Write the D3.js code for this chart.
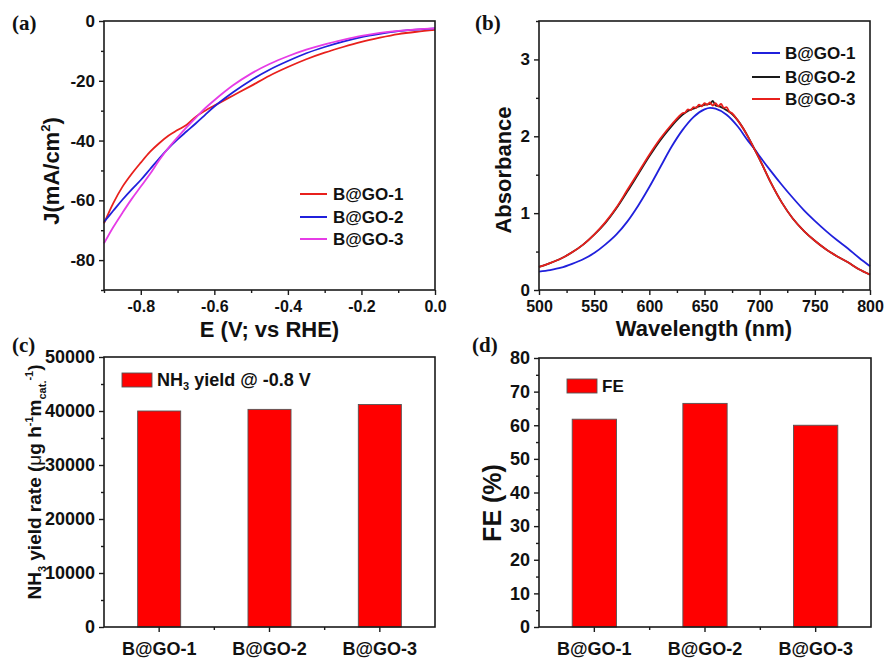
<!DOCTYPE html>
<html><head><meta charset="utf-8">
<script src="https://cdn.jsdelivr.net/npm/d3@7"></script>
<style>
body{margin:0;background:#fff}
text{font-family:"Liberation Sans",Arial,sans-serif;font-weight:bold;fill:#111}
.plab{font-family:"Liberation Serif","Times New Roman",serif;font-weight:bold}
</style>
</head><body>
<svg id="fig" width="888" height="661"></svg>
<script>
// ---------- DATA ----------
// (a) LSV curves
const seriesA = ["B@GO-1", "B@GO-2", "B@GO-3"];
const potentialA = [-0.9, -0.875, -0.85, -0.825, -0.8, -0.775, -0.75, -0.725, -0.7, -0.675, -0.65, -0.625, -0.6, -0.55, -0.5, -0.45, -0.4, -0.35, -0.3, -0.25, -0.2, -0.15, -0.1, -0.05, 0];
const currentGO1 = [-67.7, -61.0, -55.5, -51.2, -47.4, -43.8, -40.9, -38.4, -36.5, -34.7, -32.0, -30.0, -28.3, -25.0, -21.7, -18.3, -15.4, -12.8, -10.6, -8.7, -7.0, -5.6, -4.4, -3.6, -3.0];
const currentGO2 = [-67.2, -63.5, -59.8, -56.4, -53.2, -49.6, -46.0, -42.6, -39.6, -36.9, -34.2, -31.4, -28.6, -23.9, -19.8, -16.3, -13.4, -10.8, -8.7, -6.9, -5.4, -4.3, -3.4, -2.9, -2.5];
const currentGO3 = [-74.4, -69.0, -64.2, -59.6, -55.4, -51.2, -46.6, -42.5, -38.9, -35.5, -32.3, -29.2, -26.5, -21.6, -17.6, -14.4, -11.8, -9.6, -7.8, -6.3, -5.0, -4.0, -3.3, -2.8, -2.5];
const xTicksA = [-0.8, -0.6, -0.4, -0.2, 0.0];
const yTicksA = [0, -20, -40, -60, -80];

// (b) UV-vis absorbance
const seriesB = ["B@GO-1", "B@GO-2", "B@GO-3"];
const wavelengthB1 = [500, 510, 520, 530, 540, 550, 560, 570, 580, 590, 600, 610, 620, 630, 640, 650, 655, 660, 670, 680, 690, 695, 700, 710, 720, 730, 740, 750, 760, 770, 780, 790, 800];
const absorbB1 =     [0.24, 0.26, 0.29, 0.34, 0.40, 0.48, 0.59, 0.72, 0.89, 1.10, 1.34, 1.60, 1.86, 2.08, 2.25, 2.35, 2.37, 2.36, 2.28, 2.13, 1.93, 1.84, 1.74, 1.55, 1.37, 1.20, 1.04, 0.90, 0.77, 0.65, 0.54, 0.42, 0.31];
const wavelengthB2 = [500, 510, 520, 530, 540, 550, 560, 570, 580, 590, 600, 610, 620, 625, 630, 635, 640, 645, 650, 655, 657.5, 660, 665, 670, 675, 680, 690, 695, 700, 710, 720, 730, 740, 750, 760, 770, 780, 790, 800];
const absorbB2 =     [0.30, 0.35, 0.41, 0.49, 0.59, 0.72, 0.87, 1.06, 1.28, 1.51, 1.74, 1.95, 2.13, 2.21, 2.28, 2.33, 2.36, 2.39, 2.41, 2.42, 2.46, 2.40, 2.38, 2.34, 2.29, 2.21, 1.98, 1.84, 1.70, 1.40, 1.14, 0.93, 0.77, 0.64, 0.53, 0.44, 0.36, 0.27, 0.20];
const wavelengthB3 = [500, 510, 520, 530, 540, 550, 560, 570, 580, 590, 600, 610, 620, 625, 627.5, 630, 632.5, 635, 637.5, 640, 642.5, 645, 647.5, 650, 652.5, 655, 657.5, 660, 662.5, 665, 667.5, 670, 672.5, 675, 680, 690, 695, 700, 710, 720, 730, 740, 750, 760, 770, 780, 790, 800];
const absorbB3 =     [0.30, 0.35, 0.41, 0.49, 0.59, 0.72, 0.88, 1.07, 1.30, 1.53, 1.76, 1.97, 2.15, 2.23, 2.27, 2.30, 2.31, 2.35, 2.34, 2.38, 2.37, 2.41, 2.39, 2.43, 2.41, 2.44, 2.40, 2.43, 2.39, 2.42, 2.37, 2.38, 2.32, 2.30, 2.21, 1.98, 1.84, 1.70, 1.40, 1.14, 0.93, 0.77, 0.64, 0.53, 0.44, 0.36, 0.27, 0.20];
const xTicksB = [500, 550, 600, 650, 700, 750, 800];
const yTicksB = [0, 1, 2, 3];

// (c) NH3 yield rate, (d) FE
const categories = ["B@GO-1", "B@GO-2", "B@GO-3"];
const yieldRate = [40000, 40300, 41200];
const faradaicEff = [61.8, 66.5, 60.0];
const yTicksC = [0, 10000, 20000, 30000, 40000, 50000];
const yTicksD = [0, 10, 20, 30, 40, 50, 60, 70, 80];

// ---------- DRAW ----------
const svg = d3.select("#fig");
svg.append("rect").attr("width", 888).attr("height", 661).attr("fill", "#fff");
const RED = "#e8201c", BLUE = "#2020dc", MAG = "#e63ce6", BLK = "#1a1a1a";

function frame(g, x0, x1, y0, y1) {
  g.append("rect").attr("x", x0).attr("y", y0).attr("width", x1 - x0).attr("height", y1 - y0)
    .attr("fill", "none").attr("stroke", "#1a1a1a").attr("stroke-width", 1.6);
}
function styleAxis(sel, fs) {
  sel.select(".domain").remove();
  sel.selectAll("line").attr("stroke", "#1a1a1a").attr("stroke-width", 1.4);
  sel.selectAll("text").attr("font-size", fs).attr("font-family", "Liberation Sans, Arial, sans-serif")
    .attr("font-weight", "bold").attr("fill", "#111");
}
function minorAxis(g, axisFn, scale, vals, transform) {
  const a = g.append("g").attr("transform", transform).call(axisFn(scale).tickValues(vals).tickSize(3).tickFormat(""));
  styleAxis(a, 1);
}
function panelLabel(txt, x, y) {
  svg.append("text").attr("class", "plab").attr("x", x).attr("y", y).attr("font-size", 21).text(txt);
}

// ---- panel (a)
{
  const L = 104, R = 435, T = 21, B = 290;
  const x = d3.scaleLinear().domain([-0.9, 0]).range([L, R]);
  const y = d3.scaleLinear().domain([-90, 0]).range([B, T]);
  const g = svg.append("g");
  const ya = g.append("g").attr("transform", `translate(${L},0)`)
    .call(d3.axisLeft(y).tickValues(yTicksA).tickSize(5).tickPadding(4).tickFormat(d => String(d)));
  styleAxis(ya, 17);
  minorAxis(g, d3.axisLeft, y, [-10, -30, -50, -70, -90], `translate(${L},0)`);
  const xa = g.append("g").attr("transform", `translate(0,${B})`)
    .call(d3.axisBottom(x).tickValues(xTicksA).tickSize(5).tickPadding(6).tickFormat(d => d.toFixed(1)));
  styleAxis(xa, 16);
  minorAxis(g, d3.axisBottom, x, [-0.9, -0.7, -0.5, -0.3, -0.1], `translate(0,${B})`);
  const line = d3.line().x(d => x(d[0])).y(d => y(d[1])).curve(d3.curveCatmullRom.alpha(0.5));
  const cols = [RED, BLUE, MAG];
  [currentGO1, currentGO2, currentGO3].forEach((s, i) => {
    g.append("path").datum(potentialA.map((e, k) => [e, s[k]])).attr("d", line)
      .attr("fill", "none").attr("stroke", cols[i]).attr("stroke-width", 1.8);
  });
  frame(g, L, R, T, B);
  const ly = [194, 217, 239];
  seriesA.forEach((n, i) => {
    g.append("line").attr("x1", 300).attr("x2", 327).attr("y1", ly[i]).attr("y2", ly[i]).attr("stroke", cols[i]).attr("stroke-width", 2);
    g.append("text").attr("x", 333).attr("y", ly[i]).attr("dy", "0.36em").attr("font-size", 17).text(n);
  });
  g.append("text").attr("x", (L + R) / 2).attr("y", 337).attr("text-anchor", "middle").attr("font-size", 22).text("E (V; vs RHE)");
  const yt = g.append("text").attr("transform", "translate(59,171) rotate(-90)").attr("text-anchor", "middle").attr("font-size", 22);
  yt.append("tspan").text("J(mA/cm");
  yt.append("tspan").attr("font-size", 13).attr("dy", -9).text("2");
  yt.append("tspan").attr("dy", 9).text(")");
  panelLabel("(a)", 12, 30);
}

// ---- panel (b)
{
  const L = 539, R = 870, T = 21, B = 290;
  const x = d3.scaleLinear().domain([500, 800]).range([L, R]);
  const y = d3.scaleLinear().domain([0, 3.5]).range([B, T]);
  const g = svg.append("g");
  const ya = g.append("g").attr("transform", `translate(${L},0)`)
    .call(d3.axisLeft(y).tickValues(yTicksB).tickSize(5).tickPadding(4).tickFormat(d => String(d)));
  styleAxis(ya, 17);
  minorAxis(g, d3.axisLeft, y, [0.5, 1.5, 2.5, 3.5], `translate(${L},0)`);
  const xa = g.append("g").attr("transform", `translate(0,${B})`)
    .call(d3.axisBottom(x).tickValues(xTicksB).tickSize(5).tickPadding(6).tickFormat(d => String(d)));
  styleAxis(xa, 16);
  minorAxis(g, d3.axisBottom, x, [525, 575, 625, 675, 725, 775], `translate(0,${B})`);
  const line = d3.line().x(d => x(d[0])).y(d => y(d[1])).curve(d3.curveMonotoneX);
  const cols = [BLUE, BLK, RED];
  const sets = [[wavelengthB1, absorbB1], [wavelengthB2, absorbB2], [wavelengthB3, absorbB3]];
  sets.forEach((s, i) => {
    g.append("path").datum(s[0].map((w, k) => [w, s[1][k]])).attr("d", line)
      .attr("fill", "none").attr("stroke", cols[i]).attr("stroke-width", 1.8);
  });
  frame(g, L, R, T, B);
  const ly = [53, 77, 99];
  seriesB.forEach((n, i) => {
    g.append("line").attr("x1", 752).attr("x2", 780).attr("y1", ly[i]).attr("y2", ly[i]).attr("stroke", cols[i]).attr("stroke-width", 2);
    g.append("text").attr("x", 785).attr("y", ly[i]).attr("dy", "0.36em").attr("font-size", 17).text(n);
  });
  g.append("text").attr("x", 704).attr("y", 336).attr("text-anchor", "middle").attr("font-size", 22).text("Wavelength (nm)");
  g.append("text").attr("transform", "translate(511,170) rotate(-90)").attr("text-anchor", "middle").attr("font-size", 22).text("Absorbance");
  panelLabel("(b)", 475, 30);
}

// ---- bar panels
function barPanel(L, R, T, B, vals, ymax, ticks, minor, fs, barW) {
  const g = svg.append("g");
  const x = d3.scaleBand().domain(categories).range([L, R]).paddingInner(0).paddingOuter(0);
  const y = d3.scaleLinear().domain([0, ymax]).range([B, T]);
  const ya = g.append("g").attr("transform", `translate(${L},0)`)
    .call(d3.axisLeft(y).tickValues(ticks).tickSize(5).tickPadding(4).tickFormat(d => String(d)));
  styleAxis(ya, fs);
  minorAxis(g, d3.axisLeft, y, minor, `translate(${L},0)`);
  const xa = g.append("g").attr("transform", `translate(0,${B})`)
    .call(d3.axisBottom(x).tickSize(5).tickPadding(10));
  styleAxis(xa, 18);
  // minor ticks at band boundaries
  const bounds = [x.range()[0] + x.bandwidth(), x.range()[0] + 2 * x.bandwidth()];
  g.append("g").selectAll("line").data(bounds).join("line")
    .attr("x1", d => d).attr("x2", d => d).attr("y1", B).attr("y2", B + 3)
    .attr("stroke", "#1a1a1a").attr("stroke-width", 1.4);
  const bw = x.bandwidth() * barW;
  g.append("g").selectAll("rect").data(categories).join("rect")
    .attr("x", d => x(d) + (x.bandwidth() - bw) / 2).attr("width", bw)
    .attr("y", (d, i) => y(vals[i])).attr("height", (d, i) => B - y(vals[i]))
    .attr("fill", "#ff0000").attr("stroke", "#555").attr("stroke-width", 0.9);
  frame(g, L, R, T, B);
  return g;
}

// ---- panel (c)
{
  const g = barPanel(104, 435, 357, 627, yieldRate, 50000, yTicksC, [5000, 15000, 25000, 35000, 45000], 18, 0.39);
  g.append("rect").attr("x", 122).attr("y", 373).attr("width", 30).attr("height", 14)
    .attr("fill", "#ff0000").attr("stroke", "#555").attr("stroke-width", 0.9);
  const lt = g.append("text").attr("x", 157).attr("y", 386).attr("font-size", 18);
  lt.append("tspan").text("NH");
  lt.append("tspan").attr("font-size", 11).attr("dy", 4).text("3");
  lt.append("tspan").attr("dy", -4).text(" yield @ -0.8 V");
  const yt = g.append("text").attr("transform", "translate(41,482) rotate(-90)").attr("text-anchor", "middle").attr("font-size", 19);
  yt.append("tspan").text("NH");
  yt.append("tspan").attr("font-size", 11).attr("dy", 5).text("3");
  yt.append("tspan").attr("dy", -5).text(" yield rate (");
  yt.append("tspan").attr("font-weight", "normal").text("\u03bc");
  yt.append("tspan").text("g h");
  yt.append("tspan").attr("font-size", 11).attr("dy", -8).text("-1");
  yt.append("tspan").attr("dy", 8).text("m");
  yt.append("tspan").attr("font-size", 11).attr("dy", 5).text("cat.");
  yt.append("tspan").attr("font-size", 11).attr("dy", -13).text("-1");
  yt.append("tspan").attr("dy", 8).text(")");
  panelLabel("(c)", 12, 352);
}

// ---- panel (d)
{
  const g = barPanel(539, 871, 358, 627, faradaicEff, 80, yTicksD, [5, 15, 25, 35, 45, 55, 65, 75], 18, 0.40);
  g.append("rect").attr("x", 567).attr("y", 379).attr("width", 30).attr("height", 14)
    .attr("fill", "#ff0000").attr("stroke", "#555").attr("stroke-width", 0.9);
  g.append("text").attr("x", 602).attr("y", 392).attr("font-size", 17).text("FE");
  g.append("text").attr("transform", "translate(501,503) rotate(-90)").attr("text-anchor", "middle").attr("font-size", 25).text("FE (%)");
  panelLabel("(d)", 472, 352);
}
</script>
</body></html>
